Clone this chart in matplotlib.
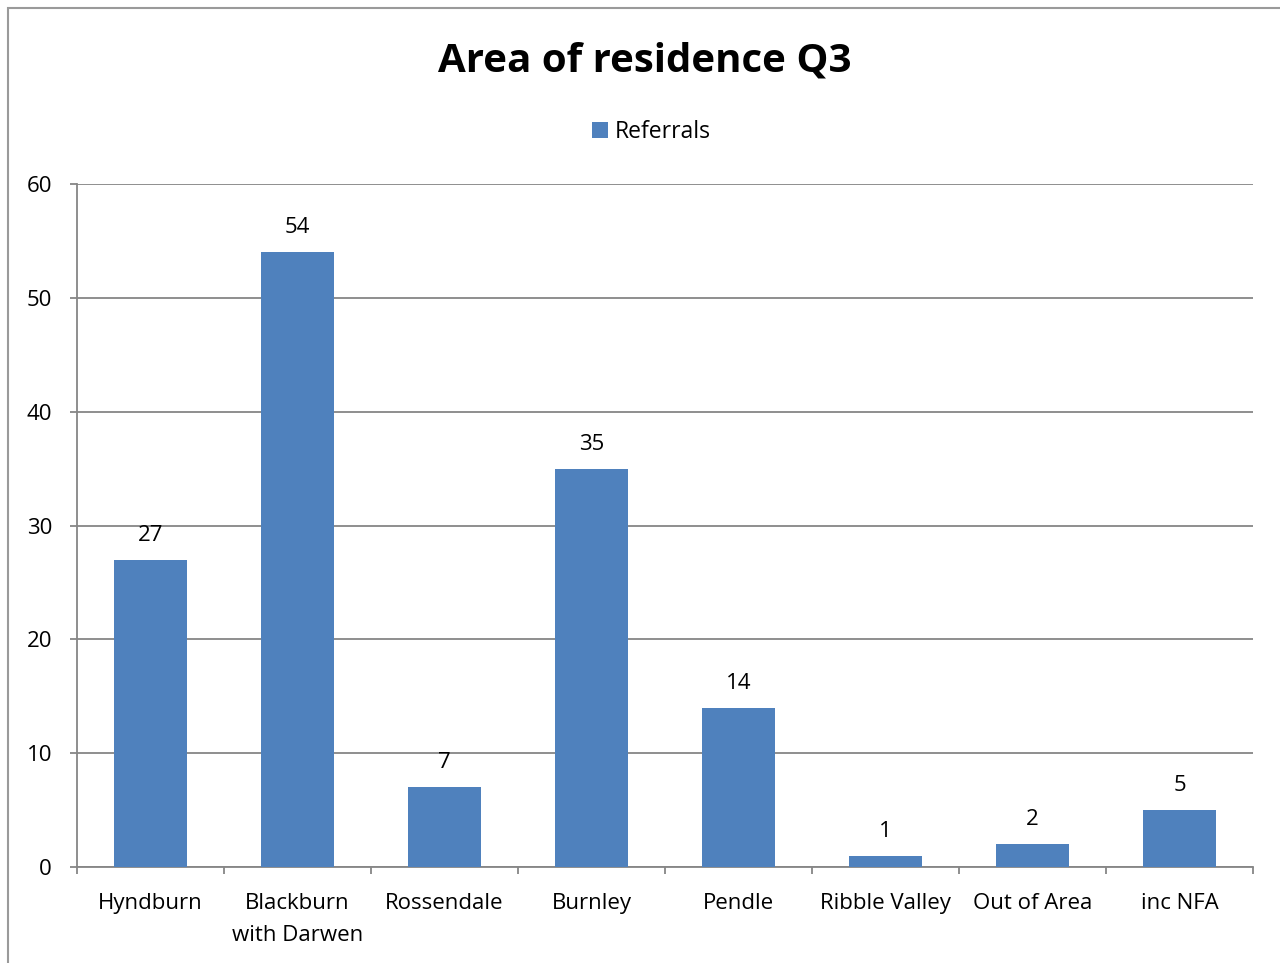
import matplotlib.pyplot as plt
from matplotlib.patches import Rectangle
import numpy as np

plt.rcParams['font.family'] = ['Open Sans', 'DejaVu Sans']

# data
categories = ['Hyndburn', 'Blackburn\nwith Darwen', 'Rossendale', 'Burnley',
              'Pendle', 'Ribble Valley', 'Out of Area', 'inc NFA']
referrals = [27, 54, 7, 35, 14, 1, 2, 5]

bar_color = '#4F81BD'
grid_color = '#868686'

fig = plt.figure(figsize=(12.8, 9.63), dpi=100)
ax = fig.add_axes([0.0602, 0.0997, 0.9187, 0.7092])

x = np.arange(len(categories))
bars = ax.bar(x, referrals, width=0.5, color=bar_color, label='Referrals', zorder=3)

for xi, v in zip(x, referrals):
    ax.annotate(str(v), (xi, v), xytext=(0, 10), textcoords='offset points',
                ha='center', va='bottom', fontsize=16)

ax.set_xlim(-0.5, len(categories) - 0.5)
ax.set_ylim(0, 60)
ax.set_yticks(np.arange(0, 61, 10))
ax.yaxis.grid(True, color=grid_color, linewidth=1.3, zorder=0)
ax.set_xticks(np.arange(-0.5, len(categories), 1), minor=False)
ax.set_xticklabels([])
ax.set_xticks(x, minor=True)
ax.set_xticklabels(categories, minor=True, fontsize=16, linespacing=1.65)
ax.tick_params(axis='x', which='minor', length=0, pad=19)
ax.tick_params(axis='x', which='major', length=5, color=grid_color, width=1.3)
ax.tick_params(axis='y', length=5, color=grid_color, width=1.3, labelsize=16, pad=13)

for s in ['top', 'right']:
    ax.spines[s].set_visible(False)
for s in ['left', 'bottom']:
    ax.spines[s].set_color(grid_color)
    ax.spines[s].set_linewidth(1.3)

fig.text(0.504, 0.937, 'Area of residence Q3', ha='center', va='center',
         fontsize=29, fontweight='bold')
fig.legend(handles=[bars], labels=['Referrals'], loc='center',
           bbox_to_anchor=(0.509, 0.863), frameon=False, fontsize=16.5,
           handlelength=0.7, handleheight=0.7, handletextpad=0.3)

# outer chart border
fig.patches.append(Rectangle((8 / 1280, -0.1), 2, 0.9917 + 0.1, transform=fig.transFigure,
                             fill=False, edgecolor='#9A9A9A', linewidth=1.5))

fig.savefig('out.png', dpi=100)
